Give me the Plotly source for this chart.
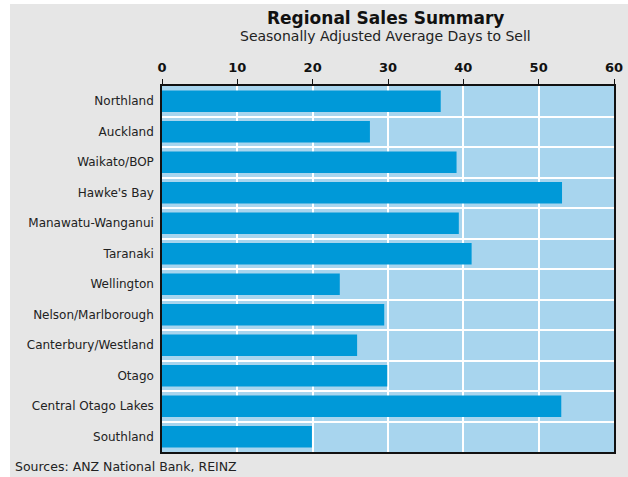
import plotly.graph_objects as go

regions = ["Northland", "Auckland", "Waikato/BOP", "Hawke's Bay", "Manawatu-Wanganui",
           "Taranaki", "Wellington", "Nelson/Marlborough", "Canterbury/Westland",
           "Otago", "Central Otago Lakes", "Southland"]
days_to_sell = [37.0, 27.6, 39.1, 53.1, 39.4, 41.1, 23.6, 29.5, 25.9, 29.9, 53.0, 19.9]
x_ticks = [0, 10, 20, 30, 40, 50, 60]

title_text = "Regional Sales Summary"
subtitle_text = "Seasonally Adjusted Average Days to Sell"
source_text = "Sources: ANZ National Bank, REINZ"

# figure placed at page offset (10, 4)
OX, OY = 10, 4
W, H = 618, 473
l, r, t, b = 152, 14, 82, 25
pw, ph = W - l - r, H - t - b


def px(xp):
    return (xp - OX - l) / pw


def py(yp):
    return (H - b - (yp - OY)) / ph


fig = go.Figure(go.Bar(
    x=days_to_sell, y=regions, orientation="h",
    marker=dict(color="#0099d8", line=dict(width=0)),
    hoverinfo="x+y",
))

fig.update_layout(
    width=W, height=H,
    margin=dict(l=l, r=r, t=t, b=b, autoexpand=False),
    paper_bgcolor="#e6e6e6",
    plot_bgcolor="#a8d5ee",
    bargap=0.3,
    showlegend=False,
    font=dict(family="DejaVu Sans, Verdana, sans-serif", color="#222222"),
    xaxis=dict(
        side="top", range=[0, 60], tickvals=x_ticks,
        ticktext=[str(v) for v in x_ticks],
        showgrid=True, gridcolor="#ffffff", gridwidth=2,
        showline=True, linecolor="#111111", linewidth=1.5, mirror=True,
        ticks="outside", ticklen=5, tickcolor="#111111", tickwidth=1,
        ticklabelstandoff=2,
        tickfont=dict(size=13, color="#111111", weight="bold"),
        zeroline=False, fixedrange=True, automargin=False,
    ),
    yaxis=dict(
        autorange="reversed", categoryorder="array", categoryarray=regions,
        tickson="boundaries", showgrid=True, gridcolor="#ffffff", gridwidth=2,
        showline=True, linecolor="#111111", linewidth=1.5, mirror=True,
        ticks="", ticklabelstandoff=4,
        tickfont=dict(size=12, color="#222222"),
        zeroline=False, fixedrange=True, automargin=False,
    ),
    annotations=[
        dict(text="<b>" + title_text + "</b>", x=px(385), y=py(18),
             xref="paper", yref="paper", xanchor="center", yanchor="middle",
             showarrow=False, font=dict(size=17, color="#111111")),
        dict(text=subtitle_text, x=px(385), y=py(36),
             xref="paper", yref="paper", xanchor="center", yanchor="middle",
             showarrow=False, font=dict(size=14, color="#222222")),
        dict(text=source_text, x=px(13), y=py(466),
             xref="paper", yref="paper", xanchor="left", yanchor="middle",
             showarrow=False, font=dict(size=12.5, color="#222222")),
    ],
)

post = ("document.body.style.margin='0';"
        "document.body.style.padding='0';"
        "var d=document.getElementById('{plot_id}');"
        "d.style.position='absolute';d.style.left='%dpx';d.style.top='%dpx';" % (OX, OY))

fig.write_html("out.html", post_script=post)
